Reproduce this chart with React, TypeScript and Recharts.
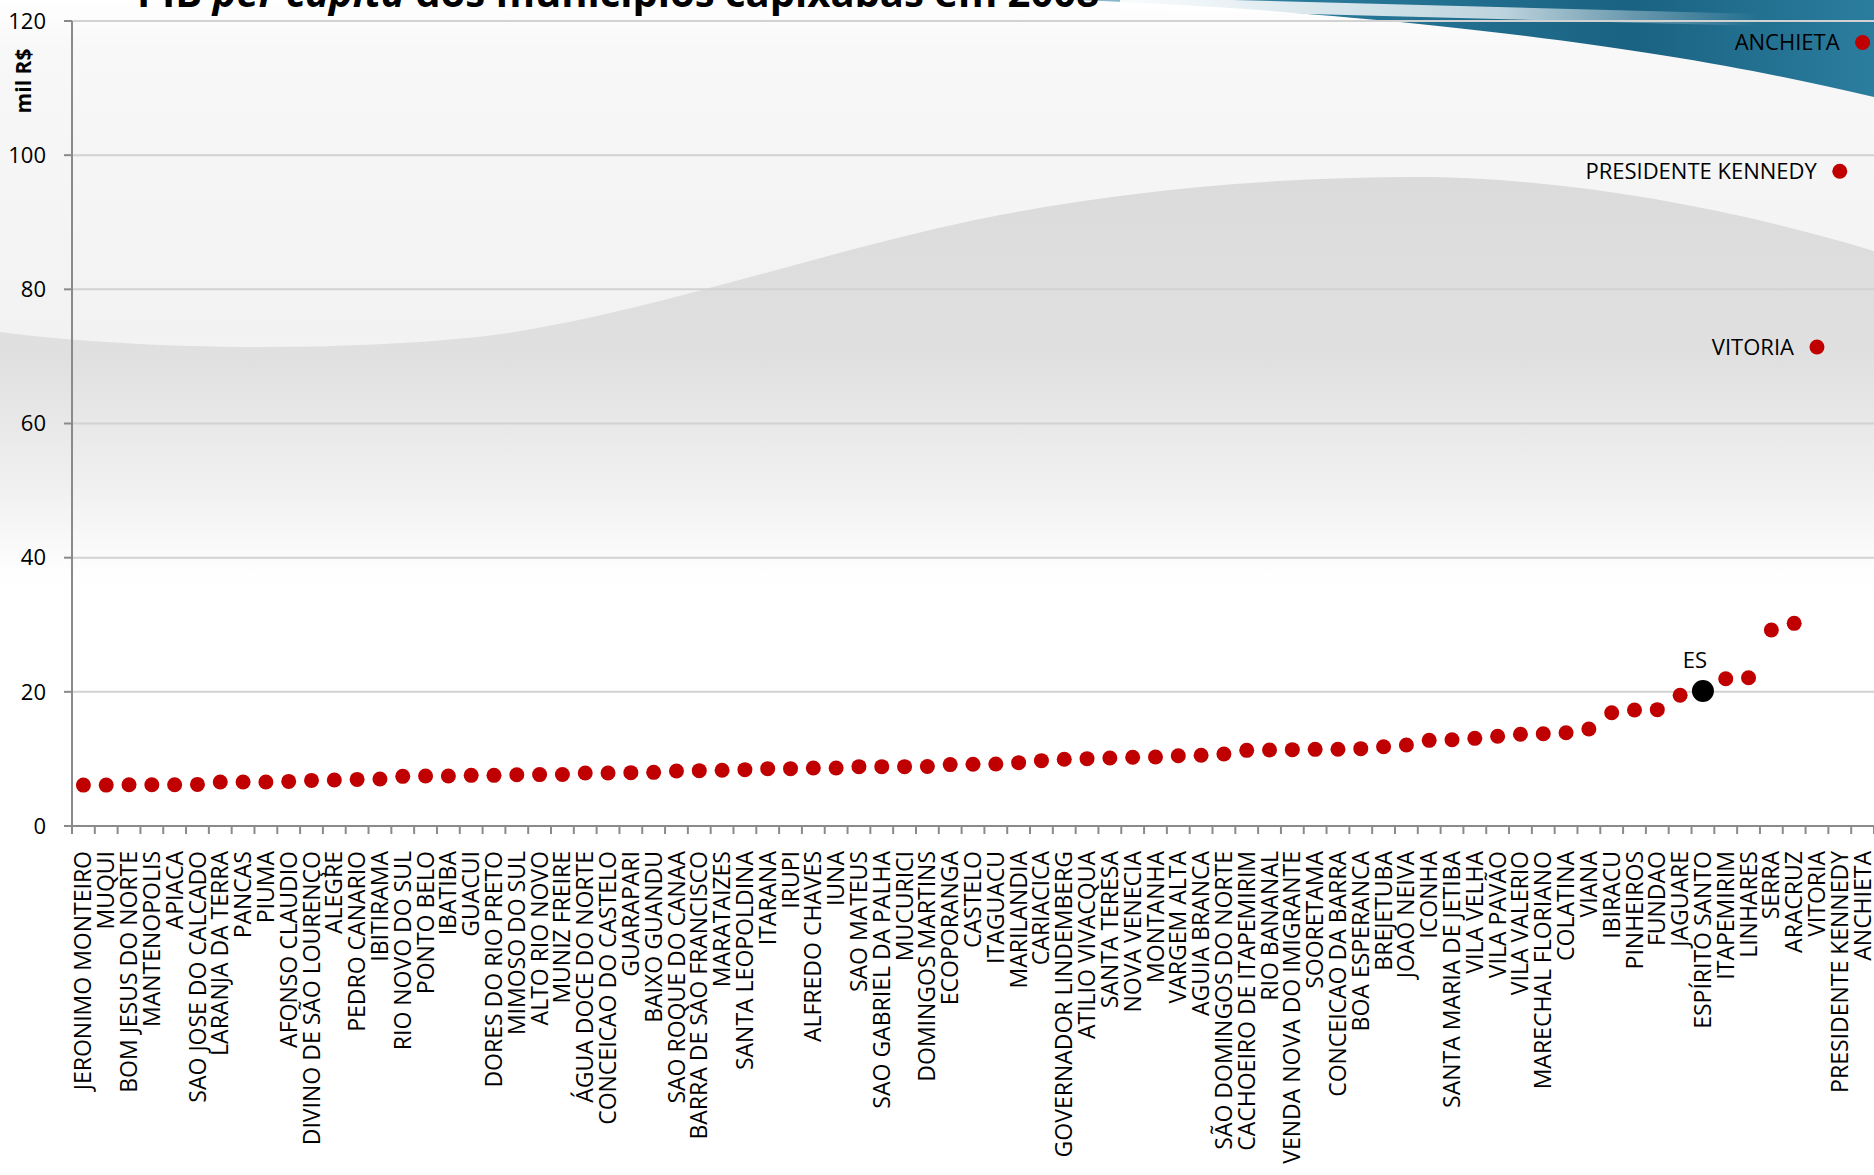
import React from 'react';
import { LineChart, Line, XAxis, YAxis, CartesianGrid } from 'recharts';

const municipios = [
  'JERONIMO MONTEIRO', 'MUQUI', 'BOM JESUS DO NORTE', 'MANTENOPOLIS', 'APIACA',
  'SAO JOSE DO CALCADO', 'LARANJA DA TERRA', 'PANCAS', 'PIUMA', 'AFONSO CLAUDIO',
  'DIVINO DE SÃO LOURENÇO', 'ALEGRE', 'PEDRO CANARIO', 'IBITIRAMA', 'RIO NOVO DO SUL',
  'PONTO BELO', 'IBATIBA', 'GUACUI', 'DORES DO RIO PRETO', 'MIMOSO DO SUL',
  'ALTO RIO NOVO', 'MUNIZ FREIRE', 'ÁGUA DOCE DO NORTE', 'CONCEICAO DO CASTELO', 'GUARAPARI',
  'BAIXO GUANDU', 'SAO ROQUE DO CANAA', 'BARRA DE SAO FRANCISCO', 'MARATAIZES', 'SANTA LEOPOLDINA',
  'ITARANA', 'IRUPI', 'ALFREDO CHAVES', 'IUNA', 'SAO MATEUS',
  'SAO GABRIEL DA PALHA', 'MUCURICI', 'DOMINGOS MARTINS', 'ECOPORANGA', 'CASTELO',
  'ITAGUACU', 'MARILANDIA', 'CARIACICA', 'GOVERNADOR LINDEMBERG', 'ATILIO VIVACQUA',
  'SANTA TERESA', 'NOVA VENECIA', 'MONTANHA', 'VARGEM ALTA', 'AGUIA BRANCA',
  'SÃO DOMINGOS DO NORTE', 'CACHOEIRO DE ITAPEMIRIM', 'RIO BANANAL', 'VENDA NOVA DO IMIGRANTE', 'SOORETAMA',
  'CONCEICAO DA BARRA', 'BOA ESPERANCA', 'BREJETUBA', 'JOAO NEIVA', 'ICONHA',
  'SANTA MARIA DE JETIBA', 'VILA VELHA', 'VILA PAVÃO', 'VILA VALERIO', 'MARECHAL FLORIANO',
  'COLATINA', 'VIANA', 'IBIRACU', 'PINHEIROS', 'FUNDAO',
  'JAGUARE', 'ESPÍRITO SANTO', 'ITAPEMIRIM', 'LINHARES', 'SERRA',
  'ARACRUZ', 'VITORIA', 'PRESIDENTE KENNEDY', 'ANCHIETA',
];

const pibPerCapita = [
  6.1, 6.1, 6.15, 6.15, 6.15,
  6.2, 6.55, 6.55, 6.55, 6.65,
  6.8, 6.85, 6.95, 7.0, 7.4,
  7.45, 7.45, 7.55, 7.55, 7.65,
  7.66, 7.68, 7.9, 7.9, 7.95,
  8.0, 8.2, 8.25, 8.3, 8.4,
  8.55, 8.55, 8.65, 8.65, 8.85,
  8.85, 8.85, 8.87, 9.15, 9.2,
  9.25, 9.44, 9.74, 9.94, 10.04,
  10.14, 10.24, 10.29, 10.48, 10.54,
  10.73, 11.28, 11.33, 11.38, 11.43,
  11.45, 11.53, 11.82, 12.07, 12.77,
  12.85, 13.07, 13.37, 13.67, 13.76,
  13.91, 14.46, 16.89, 17.29, 17.34,
  19.48, 20.12, 21.96, 22.11, 29.22,
  30.21, 71.4, 97.6, 116.8,
];

const ticksEixoY = [0, 20, 40, 60, 80, 100, 120];
const municipiosDestacados = ['VITORIA', 'PRESIDENTE KENNEDY', 'ANCHIETA'];
const nomeEstado = 'ESPÍRITO SANTO';
const rotuloEstado = 'ES';
const tituloInicio = 'PIB ';
const tituloItalico = 'per capita';
const tituloFim = ' dos municípios capixabas em 2008';
const rotuloEixoY = 'mil R$';

const LARGURA = 1874;
const ALTURA = 1175;
const LARGURA_EIXO_Y = 72;
const ALTURA_EIXO_X = 349;
const MARGEM_TOPO = 21;
const FONTE = '"Open Sans", "DejaVu Sans", sans-serif';

const dados = municipios.map((nome, i) => ({
  nome,
  municipio: nome === nomeEstado ? null : pibPerCapita[i],
  estado: nome === nomeEstado ? pibPerCapita[i] : null,
}));

const meiaBanda = (LARGURA - LARGURA_EIXO_Y) / municipios.length / 2;

const TickX = (props: any) => {
  const { x, y, payload, index } = props;
  const ty = y + 25;
  return (
    <g>
      <line x1={x - meiaBanda} x2={x - meiaBanda} y1={y} y2={y + 8} stroke="#8a8a8a" strokeWidth={2} />
      {index === municipios.length - 1 && (
        <line x1={x + meiaBanda} x2={x + meiaBanda} y1={y} y2={y + 8} stroke="#8a8a8a" strokeWidth={2} />
      )}
      <text
        x={x}
        y={ty}
        transform={`rotate(-90, ${x}, ${ty})`}
        textAnchor="end"
        dy="0.35em"
        fontSize={23}
        fontFamily={FONTE}
        fill="#000"
      >
        {payload.value}
      </text>
    </g>
  );
};

const PontoMunicipio = (props: any) => {
  const { cx, cy, payload, index } = props;
  if (cx == null || cy == null || payload?.municipio == null) return <g key={`m-${index}`} />;
  const destacado = municipiosDestacados.includes(payload.nome);
  return (
    <g key={`m-${index}`}>
      <circle cx={cx} cy={cy} r={7.5} fill="#C00000" />
      {destacado && (
        <text x={cx - 23} y={cy} dy="0.35em" textAnchor="end" fontSize={22} fontFamily={FONTE} fill="#000">
          {payload.nome}
        </text>
      )}
    </g>
  );
};

const PontoEstado = (props: any) => {
  const { cx, cy, payload, index } = props;
  if (cx == null || cy == null || payload?.estado == null) return <g key={`e-${index}`} />;
  return (
    <g key={`e-${index}`}>
      <circle cx={cx} cy={cy} r={11} fill="#000" />
      <text x={cx - 8} y={cy - 23} textAnchor="middle" fontSize={22} fontFamily={FONTE} fill="#000">
        {rotuloEstado}
      </text>
    </g>
  );
};

const Fundo = () => (
  <svg width={LARGURA} height={ALTURA} style={{ position: 'absolute', left: 0, top: 0 }}>
    <defs>
      <linearGradient id="fundoTopo" x1="0" y1="0" x2="0" y2="1">
        <stop offset="0" stopColor="#ffffff" />
        <stop offset="0.08" stopColor="#f8f8f8" />
        <stop offset="0.55" stopColor="#f2f2f2" />
        <stop offset="1" stopColor="#ffffff" />
      </linearGradient>
      <linearGradient id="onda" x1="0" y1="0" x2="0" y2="1">
        <stop offset="0" stopColor="#dbdbdb" />
        <stop offset="0.45" stopColor="#e0e0e0" />
        <stop offset="0.8" stopColor="#f2f2f2" />
        <stop offset="1" stopColor="#ffffff" />
      </linearGradient>
      <linearGradient id="teal" x1="0" y1="0" x2="1" y2="0">
        <stop offset="0" stopColor="#9fc6d5" />
        <stop offset="0.28" stopColor="#2a7a9b" />
        <stop offset="0.7" stopColor="#1a6282" />
        <stop offset="1" stopColor="#2b7d9e" />
      </linearGradient>
      <linearGradient id="brilho" x1="0" y1="0" x2="1" y2="0">
        <stop offset="0" stopColor="#ffffff" stopOpacity="0.95" />
        <stop offset="0.6" stopColor="#ffffff" stopOpacity="0.7" />
        <stop offset="1" stopColor="#ffffff" stopOpacity="0" />
      </linearGradient>
    </defs>
    <rect x={0} y={0} width={LARGURA} height={ALTURA} fill="#ffffff" />
    <rect x={0} y={0} width={LARGURA} height={600} fill="url(#fundoTopo)" />
    <path
      d="M0,332 C140,350 330,352 478,337 C640,318 820,250 1000,215 C1130,190 1280,176 1434,177 C1580,180 1740,210 1874,251 L1874,580 L0,580 Z"
      fill="url(#onda)"
    />
    <path
      d="M1070,0 L1874,0 L1874,97 C1760,70 1620,44 1400,22 C1270,10 1170,3 1070,0 Z"
      fill="url(#teal)"
    />
    <path d="M1120,3 C1320,9 1520,14 1760,20" stroke="url(#brilho)" strokeWidth={12} fill="none" />
  </svg>
);

export default function App() {
  return (
    <div style={{ position: 'absolute', left: 0, top: 0, width: LARGURA, height: ALTURA, overflow: 'hidden', fontFamily: FONTE }}>
      <Fundo />
      <div style={{ position: 'absolute', left: 0, top: 0 }}>
        <LineChart
          width={LARGURA}
          height={ALTURA}
          data={dados}
          margin={{ top: MARGEM_TOPO, right: 0, bottom: 0, left: 0 }}
        >
          <CartesianGrid horizontal vertical={false} stroke="#d2d2d2" strokeWidth={2} />
          <XAxis
            dataKey="nome"
            type="category"
            scale="band"
            interval={0}
            height={ALTURA_EIXO_X}
            tickSize={0}
            tickMargin={0}
            tickLine={false}
            axisLine={{ stroke: '#8a8a8a', strokeWidth: 2 }}
            tick={<TickX />}
          />
          <YAxis
            type="number"
            domain={[0, 120]}
            ticks={ticksEixoY}
            width={LARGURA_EIXO_Y}
            axisLine={{ stroke: '#8a8a8a', strokeWidth: 2 }}
            tickLine={{ stroke: '#8a8a8a', strokeWidth: 2 }}
            tickSize={8}
            tickMargin={18}
            tick={{ fill: '#000', fontSize: 22, fontFamily: FONTE }}
          />
          <Line
            dataKey="municipio"
            stroke="none"
            strokeWidth={0}
            isAnimationActive={false}
            dot={PontoMunicipio}
            activeDot={false}
          />
          <Line
            dataKey="estado"
            stroke="none"
            strokeWidth={0}
            isAnimationActive={false}
            dot={PontoEstado}
            activeDot={false}
          />
        </LineChart>
      </div>
      <svg width={LARGURA} height={130} style={{ position: 'absolute', left: 0, top: 0, pointerEvents: 'none' }}>
        <text x={137} y={7} fontSize={40} fontWeight="bold" fontFamily={FONTE} fill="#000">
          {tituloInicio}
          <tspan fontStyle="italic">{tituloItalico}</tspan>
          {tituloFim}
        </text>
        <text
          x={24}
          y={81}
          transform="rotate(-90, 24, 81)"
          textAnchor="middle"
          dy="0.35em"
          fontSize={21}
          fontWeight="bold"
          fontFamily={FONTE}
          fill="#000"
        >
          {rotuloEixoY}
        </text>
      </svg>
    </div>
  );
}
